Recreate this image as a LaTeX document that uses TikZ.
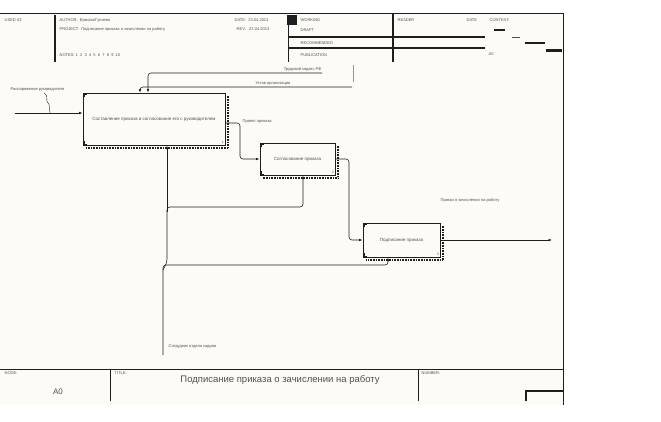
\documentclass[tikz,border=0pt]{standalone}
\usepackage{fontspec}
\setmainfont{Liberation Sans}
\usetikzlibrary{arrows.meta}
\definecolor{bg}{RGB}{253,251,245}
\definecolor{ink}{RGB}{30,30,30}
\definecolor{txt}{RGB}{80,80,80}
\definecolor{faint}{RGB}{150,150,150}
\begin{document}
\begin{tikzpicture}[x=1pt,y=-1pt,
  tiny/.style={font=\fontsize{4}{5}\selectfont, text=txt, inner sep=0.5pt},
  proc/.style={draw=ink, line width=1pt, fill=bg, font=\fontsize{4.5}{5.5}\selectfont, text=txt, inner sep=1pt},
  arr/.style={draw=ink, line width=0.6pt, -{Latex[length=3.5pt,width=2.6pt]}, rounded corners=3pt},
  frame/.style={draw=ink, line width=0.8pt},
  thickframe/.style={draw=ink, line width=1.3pt},
  shade/.style={draw=ink, line width=1.8pt, dash pattern=on 0.7pt off 0.9pt}]
\useasboundingbox (0,0) rectangle (661,421);
\fill[white] (0,0) rectangle (661,421);
\fill[bg] (0,13) rectangle (563,405);

% ---------- header ----------
\draw[frame] (0,13) -- (563,13) -- (563,405);
\draw[thickframe] (55,15) -- (55,62);
\draw[frame] (288,25) -- (288,62);
\draw[thickframe] (393,13) -- (393,62);
\draw[thickframe] (288,37) -- (485,37);
\draw[thickframe] (288,48) -- (485,48);
\fill[ink] (287,15) rectangle (297,25);
\node[tiny, anchor=west] (usedat) at (4,20) {USED AT:};
\node[tiny, anchor=west] (author) at (59,20) {AUTHOR:\ \ Ермола/Гуляева};
\node[tiny, anchor=west] (project) at (59,29) {PROJECT:\ \ Подписание приказа о зачислении на работу};
\node[tiny, anchor=west] (notes) at (59,55) {NOTES:\ 1\ \ 2\ \ 3\ \ 4\ \ 5\ \ 6\ \ 7\ \ 8\ \ 9\ \ 10};
\node[tiny, anchor=west] (date) at (234,20) {DATE:\ \ 23.04.2013};
\node[tiny, anchor=west] (rev) at (236,29) {REV:\ \ \ 23.04.2013};
\node[tiny, anchor=west] (working) at (300,20) {WORKING};
\node[tiny, anchor=west] (draft) at (300,30) {DRAFT};
\node[tiny, anchor=west] (recom) at (300,43) {RECOMMENDED};
\node[tiny, anchor=west] (publ) at (300,55) {PUBLICATION};
\node[tiny, anchor=west] (reader) at (397,20) {READER};
\node[tiny, anchor=west] (rdate) at (466,20) {DATE};
\node[tiny, anchor=west] (context) at (489,20) {CONTEXT:};
\node[tiny, anchor=west] (ctxnode) at (488,54) {A0};
\draw[ink, line width=1.2pt] (494,30) -- (505,30);
\draw[txt, line width=0.6pt] (512,37) -- (520,37);
\draw[ink, line width=1.5pt] (525,43) -- (545,43);
\draw[ink, line width=3pt] (546,50) -- (562,50);

% ---------- footer ----------
\draw[frame] (0,369) -- (563,369);
\draw[frame] (110,369) -- (110,401);
\draw[frame] (418,369) -- (418,401);
\draw[thickframe] (526,401) -- (526,391) -- (563,391);
\node[tiny, anchor=west] (nodelbl) at (4,373) {NODE:};
\node[font=\fontsize{8}{9}\selectfont, text=txt] (nodeval) at (58,392) {A0};
\node[tiny, anchor=west] (titlelbl) at (114,373) {TITLE:};
\node[font=\fontsize{9.5}{11}\selectfont, text=txt] (title) at (280,380) {Подписание приказа о зачислении на работу};
\node[tiny, anchor=west] (numlbl) at (421,373) {NUMBER:};

% ---------- activity boxes ----------
\node[proc, minimum width=142pt, minimum height=52pt] (b1) at (154,119) {Составление приказа и согласование его с руководителем};
\node[proc, minimum width=75pt, minimum height=32pt] (b2) at (297.5,159) {Согласование приказа};
\node[proc, minimum width=77pt, minimum height=34pt] (b3) at (401.5,240) {Подписание приказа};
\foreach \b/\n in {b1/1,b2/2,b3/3}{
  \draw[shade] ([xshift=2.5pt,yshift=-3pt]\b.north east) -- ([xshift=2.5pt,yshift=-2.5pt]\b.south east) -- ([xshift=3pt,yshift=-2.5pt]\b.south west);
  \draw[ink, line width=0.5pt] ([xshift=1.5pt,yshift=-4.5pt]\b.north west) -- ([xshift=1.5pt,yshift=-1.5pt]\b.north west) -- ([xshift=4.5pt,yshift=-1.5pt]\b.north west);
  \draw[ink, line width=0.5pt] ([xshift=1.5pt,yshift=4.5pt]\b.south west) -- ([xshift=1.5pt,yshift=1.5pt]\b.south west) -- ([xshift=4.5pt,yshift=1.5pt]\b.south west);
  \node[font=\fontsize{3.5}{4}\selectfont, text=txt, inner sep=0pt, anchor=south east] at ([xshift=-1.5pt,yshift=1.5pt]\b.south east) {\n};
}

% ---------- input ----------
\coordinate (inL) at (15,113);
\draw[arr] (inL) -- (b1.west |- inL);
\node[tiny, anchor=west] (inlbl) at (10,90) {Распоряжение руководителя};
\draw[ink, line width=0.4pt] (44,93) .. controls (50,97) and (44,101) .. (49,104) -- (50,113);

% ---------- controls ----------
\coordinate (c1) at (322,73);
\coordinate (c2) at (352,87);
\draw[arr] (c1) -| ([xshift=-6pt]b1.north);
\draw[arr] (c2) -| ([xshift=-14pt]b1.north);
\draw[faint, line width=0.5pt] (353,65) -- (353,82);
\node[tiny, anchor=south east] (c1lbl) at (322,72.5) {Трудовой кодекс РФ};
\node[tiny, anchor=south] (c2lbl) at (273,86) {Устав организации};

% ---------- outputs ----------
\coordinate (t1) at (240,140);
\draw[arr] ([yshift=-4pt]b1.east) -| (t1) |- (b2.west);
\node[tiny, anchor=west] (o1lbl) at (242,122) {Проект приказа};
\coordinate (t2) at (349,159);
\draw[arr] (b2.east) -- (t2) |- (b3.west);
\coordinate (out) at (552,240);
\draw[arr] (b3.east) -- (out);
\node[tiny, anchor=west] (o3lbl) at (440,200) {Приказ о зачислении на работу};

% ---------- mechanism ----------
\coordinate (mech) at (163,355);
\coordinate (m3) at (388,265);
\coordinate (m2) at (303,207);
\draw[arr] (mech) -- (163,265) -- (m3) -- (b3.south -| m3);
\draw[arr] (163,270) -- (167,262) -- (167,207) -- (m2) -- (b2.south -| m2);
\draw[arr] (167,212) -- ([xshift=13pt]b1.south);
\node[tiny, anchor=west] (mlbl) at (168,347) {Сотрудник отдела кадров};
\end{tikzpicture}
\end{document}
